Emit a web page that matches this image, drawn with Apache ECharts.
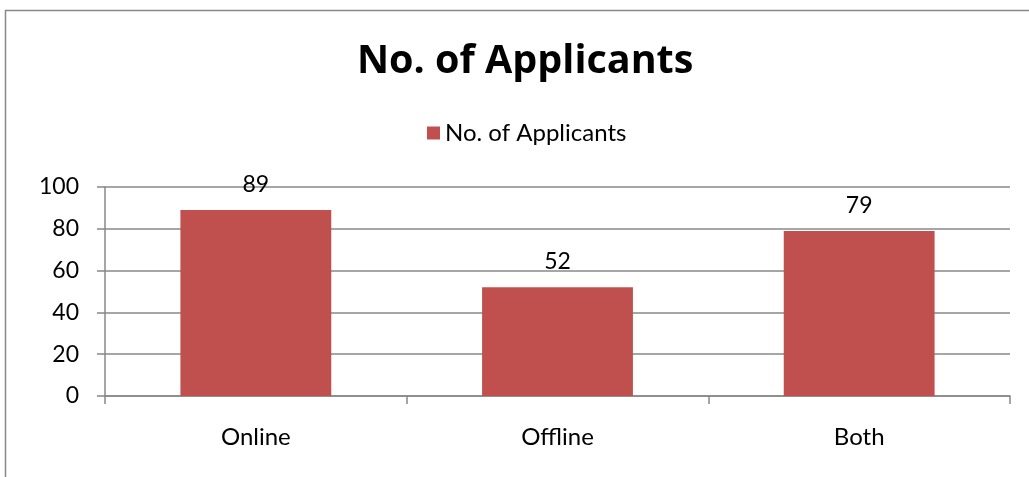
<!DOCTYPE html>
<html><head><meta charset="utf-8">
<script src="https://cdn.jsdelivr.net/npm/echarts@6/dist/echarts.min.js"></script>
<style>html,body{margin:0;padding:0;background:#fff;}#c{width:1029px;height:477px;}</style>
</head><body><div id="c"></div>
<script>
const categories = ['Online', 'Offline', 'Both'];
const applicants = [89, 52, 79];
const yTicks = [0, 20, 40, 60, 80, 100];
const seriesName = 'No. of Applicants';
const titleText = 'No. of Applicants';

const chart = echarts.init(document.getElementById('c'));
const font = 'Lato, "Open Sans", sans-serif';
chart.setOption({
  animation: false,
  graphic: [{type:'rect', shape:{x:5.5,y:10.5,width:1040,height:480}, style:{fill:'none', stroke:'#888', lineWidth:1.5}, z:-1}],
  title: {text: titleText, left: 357, top: 42, padding:0,
    textStyle:{fontFamily:'"Open Sans", sans-serif', fontWeight:'bold', fontSize:39.5, color:'#000'}},
  legend: {data:[seriesName], top: 121, left:427, padding:0, itemWidth:13, itemHeight:13, itemGap:8, icon:'rect',
    textStyle:{fontFamily:font, fontSize:24, color:'#000'}},
  grid: {left:105, right:19, top:187, bottom:81, containLabel:false},
  xAxis: {type:'category', data:categories,
    axisLine:{lineStyle:{color:'#888', width:1.5}},
    axisTick:{show:true, length:8, alignWithLabel:false, lineStyle:{color:'#888', width:1.5}},
    axisLabel:{fontFamily:font, fontSize:24, color:'#000', margin:29}},
  yAxis: {type:'value', min:0, max:100, interval:20,
    axisLine:{show:true, lineStyle:{color:'#888', width:1.5}},
    axisTick:{show:true, length:8, lineStyle:{color:'#888', width:1.5}},
    splitLine:{lineStyle:{color:'#888', width:1.5}},
    axisLabel:{fontFamily:font, fontSize:23, color:'#000', margin:26, formatter: v => yTicks.includes(v) ? String(v) : ''}},
  series: [{name:seriesName, type:'bar', data:applicants, barWidth:'50%', itemStyle:{color:'#C0504D'},
    label:{show:true, position:'top', distance:14, fontFamily:font, fontSize:23, color:'#000'}}]
});
</script></body></html>
